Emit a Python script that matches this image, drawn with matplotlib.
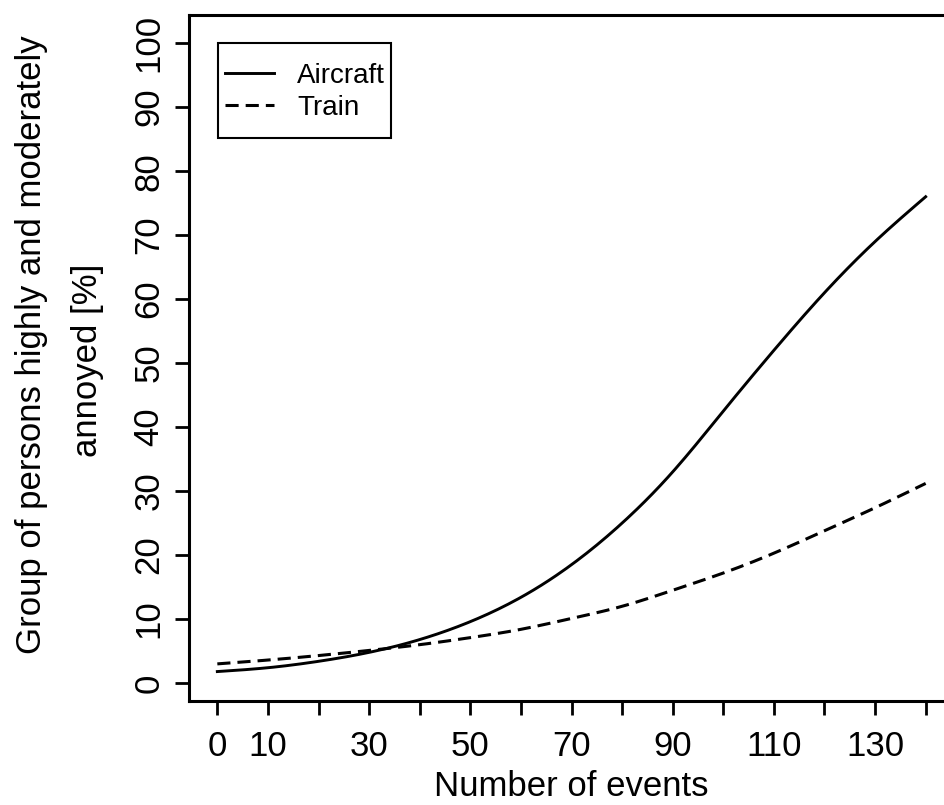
import matplotlib
matplotlib.use("Agg")
import matplotlib.pyplot as plt
from matplotlib.patches import Rectangle
import numpy as np

plt.rcParams['font.family'] = ['Liberation Sans', 'DejaVu Sans']

events = [0, 10, 20, 30, 40, 50, 60, 70, 80, 90, 100, 110, 120, 130, 140]
aircraft = [1.8, 2.4, 3.4, 4.8, 6.8, 9.6, 13.4, 18.5, 25.0, 33.0, 42.5, 52.0, 61.0, 69.0, 76.0]
train = [3.0, 3.6, 4.3, 5.1, 6.0, 7.1, 8.4, 10.1, 12.0, 14.5, 17.2, 20.3, 23.8, 27.4, 31.2]
xticks = list(range(0, 141, 10))
xticklabels = ['0', '10', '', '30', '', '50', '', '70', '', '90', '', '110', '', '130', '']
yticks = list(range(0, 101, 10))


def smooth(x, y, xn):
    # cubic spline through the read points
    x = np.asarray(x, float); y = np.asarray(y, float)
    n = len(x); h = np.diff(x)
    A = np.zeros((n, n)); b = np.zeros(n)
    A[0, 0] = 1; A[-1, -1] = 1
    for i in range(1, n - 1):
        A[i, i - 1] = h[i - 1]; A[i, i] = 2 * (h[i - 1] + h[i]); A[i, i + 1] = h[i]
        b[i] = 3 * ((y[i + 1] - y[i]) / h[i] - (y[i] - y[i - 1]) / h[i - 1])
    c = np.linalg.solve(A, b)
    out = np.empty_like(xn)
    for k, xv in enumerate(xn):
        i = min(np.searchsorted(x, xv, side='right') - 1, n - 2)
        dx = xv - x[i]
        bi = (y[i + 1] - y[i]) / h[i] - h[i] * (2 * c[i] + c[i + 1]) / 3
        di = (c[i + 1] - c[i]) / (3 * h[i])
        out[k] = y[i] + bi * dx + c[i] * dx ** 2 + di * dx ** 3
    return out


fig = plt.figure(figsize=(9.44, 8.05), dpi=100)
ax = fig.add_axes([189 / 944, 104 / 805, 765 / 944, 686 / 805])

xs = np.linspace(0, 140, 281)
ya = smooth(events, aircraft, xs)
yt = smooth(events, train, xs)

ax.plot(xs, ya, color='black', lw=2.1, label='Aircraft')
ax.plot(xs, yt, color='black', lw=2.2, linestyle=(0, (4.3, 2.3)), label='Train')

ax.set_xlim(-5.6, 145.6)
ax.set_ylim(-2.8, 104.4)
ax.set_xticks(xticks)
ax.set_xticklabels(xticklabels)
ax.set_yticks(yticks)
ax.set_yticklabels([str(v) for v in yticks], rotation=90, va='center')
for s in ax.spines.values():
    s.set_linewidth(2.2)
ax.tick_params(axis='both', length=10, width=2.0, labelsize=25, pad=7, direction='out')
ax.tick_params(axis='x', pad=11)

ax.set_xlabel('Number of events', fontsize=25, labelpad=5)
fig.text(32 / 944, 1 - 345 / 805, 'Group of persons highly and moderately',
         rotation=90, ha='center', va='center', fontsize=25)
fig.text(87 / 944, 1 - 360 / 805, 'annoyed [%]',
         rotation=90, ha='center', va='center', fontsize=25)

leg = fig.legend(loc='upper left', bbox_to_anchor=(225 / 944, 1 - 63 / 805),
                 fontsize=20, frameon=False,
                 handlelength=1.75, handletextpad=0.85, labelspacing=0.2,
                 borderpad=0, borderaxespad=0)
fig.patches.append(Rectangle((218 / 944, 1 - 138 / 805), (391 - 218) / 944, 95 / 805,
                             transform=fig.transFigure, fill=False,
                             edgecolor='black', lw=1.5))

fig.savefig('out.png', dpi=100)
